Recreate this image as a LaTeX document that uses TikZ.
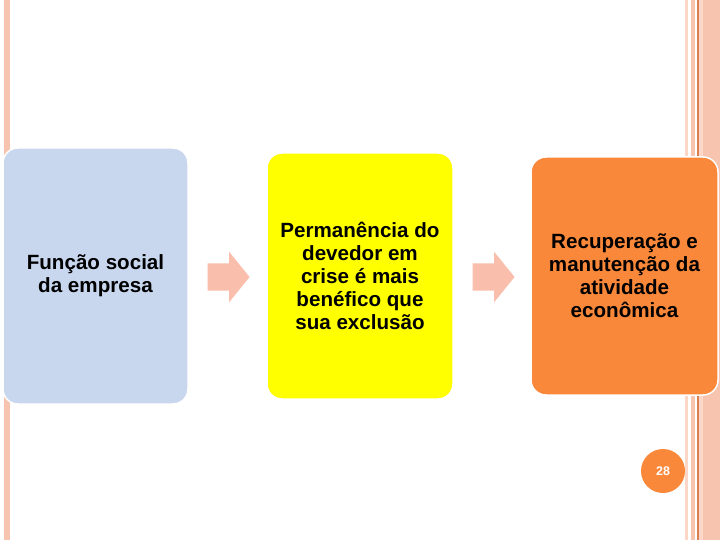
\documentclass[tikz,border=0pt]{standalone}
\usepackage{fontspec}
\setmainfont{Liberation Sans}
\usetikzlibrary{positioning, shapes.arrows}

\definecolor{stripe}{RGB}{247,196,176}
\definecolor{stripelight}{RGB}{252,214,198}
\definecolor{stripedark}{RGB}{214,128,84}
\definecolor{boxblue}{RGB}{200,214,238}
\definecolor{boxyellow}{RGB}{255,255,0}
\definecolor{boxorange}{RGB}{250,136,58}
\definecolor{arrowpink}{RGB}{249,190,172}

\tikzset{
  stepbox/.style={draw=white, line width=1.5pt, rounded corners=15pt, align=center,
    font=\fontsize{20.6}{23}\selectfont\bfseries, inner sep=0pt},
  blockarrow/.style={single arrow, fill=arrowpink, draw=none, inner sep=0pt,
    inner ysep=13.5pt, minimum height=42pt, single arrow head extend=11.5pt,
    single arrow tip angle=102}
}

\begin{document}
\begin{tikzpicture}[x=1pt, y=-1pt]
			\fill[white] (0,0) rectangle (720,540);
			\useasboundingbox (0,0) rectangle (720,540);
			% slide decoration
			\fill[stripe] (4,0) rectangle (10,540);
			\fill[stripelight] (685,0) rectangle (688,540);
			\fill[stripe] (691,0) rectangle (695,540);
			\fill[stripedark] (697,0) rectangle (698.5,540);
			\fill[stripelight] (698.5,0) rectangle (720,540);
			\fill[stripe] (703,0) rectangle (720,540);
			% steps
			\node[stepbox, fill=boxblue, minimum width=185pt, minimum height=256pt] (funcao) at (95.5,276)
				{Função social\\da empresa};
			\node[stepbox, fill=boxyellow, minimum width=186pt, minimum height=246pt] (permanencia) at (360,276)
				{Permanência do\\devedor em\\crise é mais\\benéfico que\\sua exclusão};
			\node[stepbox, fill=boxorange, minimum width=187pt, minimum height=238pt] (recuperacao) at (624.5,276)
				{Recuperação e\\manutenção da\\atividade\\econômica};
			\node[blockarrow] (arrA) at (223,277) {};
			\node[blockarrow] (arrB) at (488,277) {};
			% page number
			\node[circle, fill=boxorange, minimum size=44pt, inner sep=0pt, text=white,
				font=\fontsize{12.5}{15}\selectfont\bfseries] (pagenum) at (663,471) {28};
		\end{tikzpicture}
\end{document}
